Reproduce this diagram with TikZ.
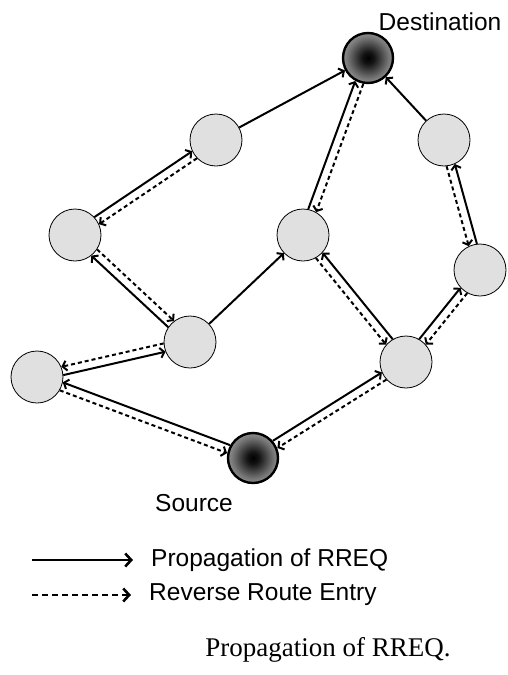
\documentclass[tikz,border=0pt]{standalone}
\usepackage{fontspec}
\setmainfont{Liberation Serif}
\newfontfamily\labelfont{Liberation Sans}
\usetikzlibrary{calc,arrows.meta,positioning}
\pgfdeclareradialshading{endball}{\pgfpoint{0bp}{0bp}}{color(0bp)=(black);
color(6bp)=(black!92); color(20bp)=(black!55); color(36bp)=(black!22);
color(50bp)=(black!6)}
\tikzset{hop/.style={draw,fill=black!12,circle,minimum size=52pt,inner
sep=0pt,line width=0.8pt},end/.style={draw,circle,minimum size=50pt,inner
sep=0pt,line width=2.4pt,shading=endball}}

\begin{document}
\begin{tikzpicture}[x=1pt, y=-1pt,
	rreq/.style = {line width=2pt, -{Straight Barb[length=4pt,width=10pt]}},
	rev/.style = {rreq, dash pattern=on 4pt off 3pt, shorten >=26pt, shorten <=26pt,
		to path={($(\tikztostart)!#1!90:(\tikztotarget)$) -- ($(\tikztotarget)!#1!-90:(\tikztostart)$)}},
	fwd/.style = {rev=#1, solid},
	txt/.style = {font=\labelfont\fontsize{24.5}{28}\selectfont, inner sep=0pt}]
		\useasboundingbox (0,0) rectangle (507,675);

		\node[end] (D) at (368,58) {};
		\node[end] (S) at (253,458) {};
		\node[hop] (A) at (216,140) {};
		\node[hop] (B) at (444,140) {};
		\node[hop] (C) at (75,235) {};
		\node[hop] (E) at (303,235) {};
		\node[hop] (F) at (480,270) {};
		\node[hop] (G) at (190,342) {};
		\node[hop] (H) at (37,377) {};
		\node[hop] (I) at (406,362) {};

		\node[txt] (dlabel) at (440,22) {Destination};
		\node[txt] (slabel) at (194,503) {Source};

		% RREQ and reverse route, side by side
		\draw[fwd=-4pt] (S) to (H);  \draw[rev=-4.5pt] (H) to (S);
		\draw[fwd=-4pt] (H) to (G);  \draw[rev=-4.5pt] (G) to (H);
		\draw[fwd=4pt] (G) to (C);  \draw[rev=4.5pt] (C) to (G);
		\draw[fwd=4pt] (C) to (A);  \draw[rev=4.5pt] (A) to (C);
		\draw[fwd=4pt] (S) to (I);  \draw[rev=4.5pt] (I) to (S);
		\draw[fwd=-4pt] (I) to (E);  \draw[rev=-4.5pt] (E) to (I);
		\draw[fwd=4pt] (E) to (D);  \draw[rev=4.5pt] (D) to (E);
		\draw[fwd=4pt] (I) to (F);  \draw[rev=4.5pt] (F) to (I);
		\draw[fwd=-4pt] (F) to (B);  \draw[rev=-4.5pt] (B) to (F);

		% RREQ only
		\draw[rreq] (G) -- (E);
		\draw[rreq] (A) -- (D);
		\draw[rreq] (B) -- (D);

		% legend
		\node[txt, anchor=west] (prop) at (151,560) {Propagation of RREQ};
		\node[txt, anchor=west] (back) at (149,595) {Reverse Route Entry};
		\coordinate (p0) at (32,560);
		\coordinate (b0) at (32,595);
		\draw[line width=2.6pt, -{Straight Barb[length=6pt,width=13pt]}] (p0) -- ([xshift=-18pt]prop.west);
		\draw[line width=2.6pt, dash pattern=on 6pt off 4pt, -{Straight Barb[length=6pt,width=13pt]}] (b0) -- ([xshift=-18pt]back.west);

		\node[font=\fontsize{27}{31}\selectfont, inner sep=0pt] (caption) at (328,650) {Propagation of RREQ.};
	\end{tikzpicture}
\end{document}
